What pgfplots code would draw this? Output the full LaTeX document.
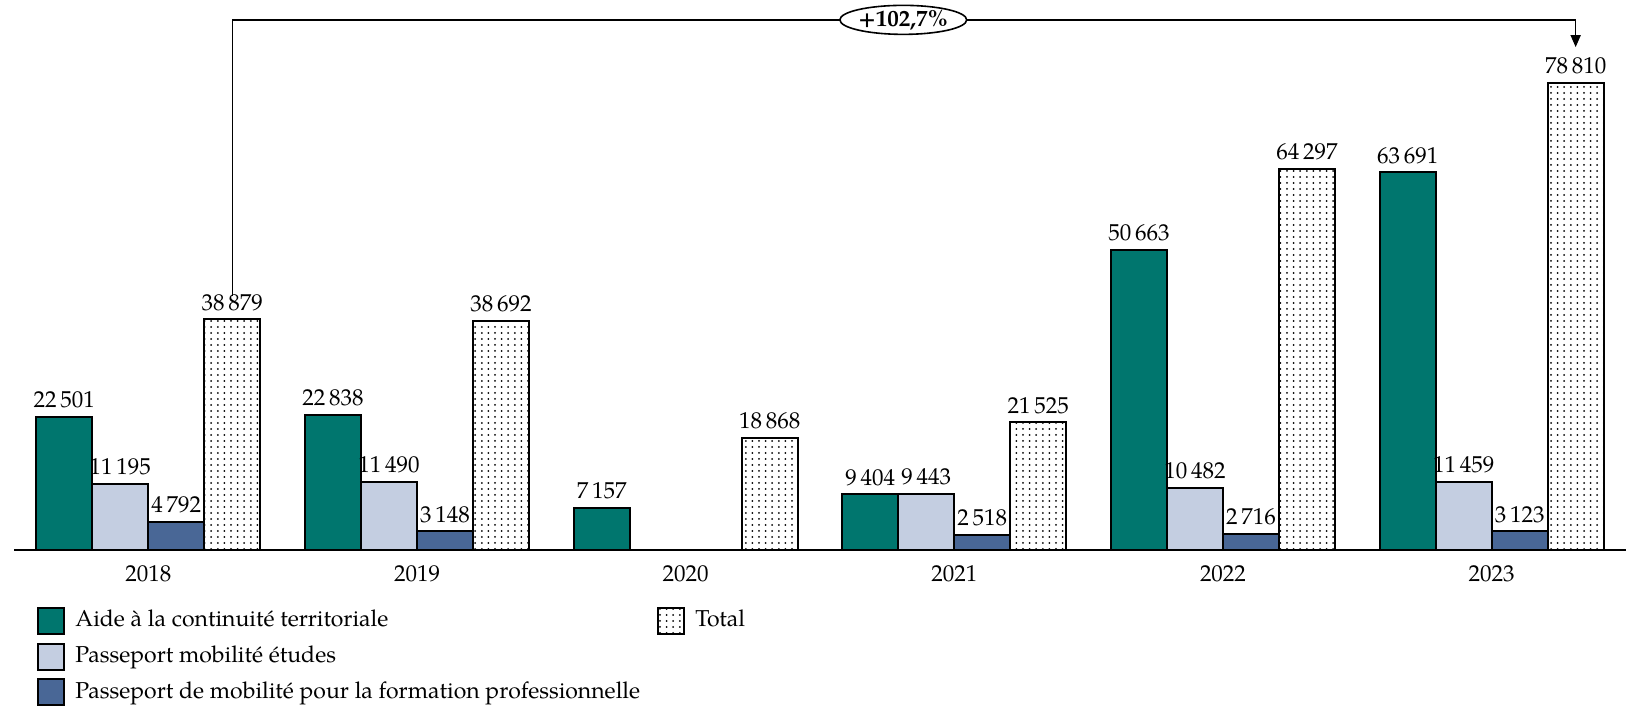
\documentclass[border=0pt]{standalone}
\usepackage{fontspec}
\setmainfont{TeX Gyre Pagella}
\usepackage{pgfplots}
\pgfplotsset{compat=1.18}
\usetikzlibrary{patterns,arrows.meta,shapes.geometric}
\definecolor{cTeal}{RGB}{0,118,110}
\definecolor{cLight}{RGB}{196,206,225}
\definecolor{cDark}{RGB}{73,103,150}
\pgfdeclarepatternformonly{sparsedots}{\pgfqpoint{-1pt}{-1pt}}{\pgfqpoint{1pt}{1pt}}{\pgfqpoint{3.3pt}{3.0pt}}{\pgfpathcircle{\pgfqpoint{0pt}{0pt}}{0.5pt}\pgfusepath{fill}}
\begin{document}
\fontsize{11.5}{14}\selectfont
\begin{tikzpicture}
\begin{axis}[
 at={(7pt,83.5pt)}, anchor=south west,
 scale only axis, width=806pt, height=275pt,
 xmin=-0.5, xmax=5.5, ymin=0, ymax=92750,
 axis x line*=bottom, axis y line=none,
 x axis line style={line width=1pt, -},
 xtick={0,1,2,3,4,5}, xticklabels={2018,2019,2020,2021,2022,2023},
 major tick length=0pt,
 xticklabel style={yshift=-3.7pt},
 ybar=0pt, bar width=28pt,
 clip=false,
 nodes near coords,
 every node near coord/.append style={text=black},
 /pgf/number format/.cd, 1000 sep={\,}, assume math mode=true, /pgfplots/.cd,
 legend image code/.code={\draw[#1,line width=1pt] (0pt,-6.5pt) rectangle (13pt,6.5pt);},
 transpose legend, legend columns=3, legend cell align=left,
 legend style={at={(axis description cs:0,0)}, anchor=north west, xshift=11.5pt, yshift=-28.5pt,
   draw=none, fill=none, inner sep=0pt, outer sep=0pt, row sep=3.8pt,
   nodes={inner sep=0pt, text height=8.5pt, text depth=2.5pt},
   /tikz/every odd column/.append style={column sep=5.2pt},
   /tikz/every even column/.append style={column sep=8.4pt}},
]
\addplot[fill=cTeal, draw=black, line width=1pt] coordinates {(0,22501) (1,22838) (2,7157) (3,9404) (4,50663) (5,63691)};
\addlegendentry{Aide à la continuité territoriale}
\addplot[fill=cLight, draw=black, line width=1pt] coordinates {(0,11195) (1,11490) (3,9443) (4,10482) (5,11459)};
\addlegendentry{Passeport mobilité études}
\addplot[fill=cDark, draw=black, line width=1pt] coordinates {(0,4792) (1,3148) (3,2518) (4,2716) (5,3123)};
\addlegendentry{Passeport de mobilité pour la formation professionnelle}
\addplot[pattern=sparsedots, draw=black, line width=1pt] coordinates {(0,38879) (1,38692) (2,18868) (3,21525) (4,64297) (5,78810)};
\addlegendentry{Total}
\addlegendimage{draw=white, fill=white}
\addlegendentry{\mbox{}}
\addlegendimage{draw=white, fill=white}
\addlegendentry{\mbox{}}
\draw[line width=0.8pt, -{Triangle[width=5pt,length=6pt]}] ([xshift=42pt]axis cs:0,42800) -- ([xshift=42pt]axis cs:0,89400) -- ([xshift=42pt]axis cs:5,89400) -- ([xshift=42pt]axis cs:5,84800);
\node[draw, ellipse, fill=white, line width=0.8pt, minimum width=60pt, minimum height=14.5pt, inner sep=0pt, font=\bfseries] at (axis cs:2.81,89400) {+102,7\%};
\end{axis}
\pgfresetboundingbox
\path[use as bounding box] (0,0) rectangle (820pt,358.5pt);
\end{tikzpicture}
\end{document}
